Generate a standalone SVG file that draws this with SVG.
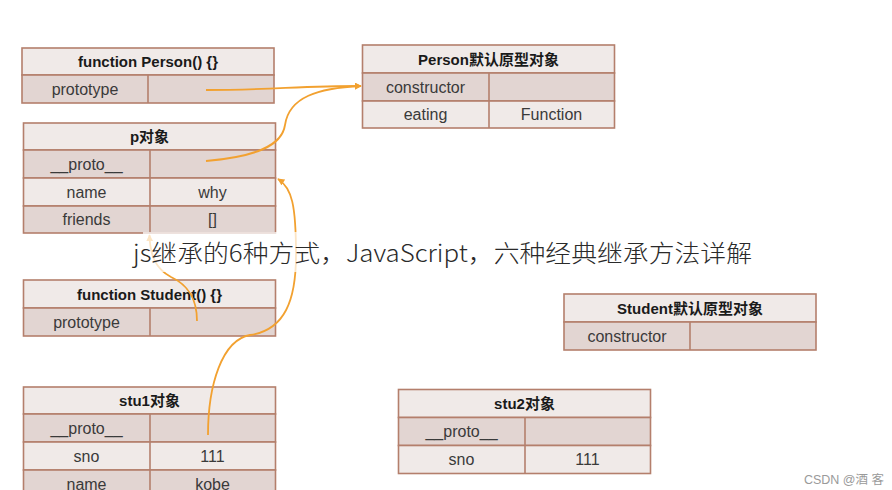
<svg xmlns="http://www.w3.org/2000/svg" width="892" height="490" viewBox="0 0 892 490">
<defs>
<style>
.hd{fill:#f0eae8;stroke:#b47f6c;stroke-width:1.6}
.dk{fill:#e2d5d2;stroke:#b47f6c;stroke-width:1.6}
.lt{fill:#f0eae8;stroke:#b47f6c;stroke-width:1.6}
.dv{stroke:#b47f6c;stroke-width:1.6}
.ht{font-family:"Liberation Sans","Noto Sans CJK SC",sans-serif;font-size:15px;font-weight:bold;fill:#1a1a1a;text-anchor:middle}
.ct{font-family:"Liberation Sans","Noto Sans CJK SC",sans-serif;font-size:16px;fill:#3a3a3a;text-anchor:middle}
.cn{fill:none;stroke:#f2a130;stroke-width:1.8}
</style>
<marker id="ah" viewBox="0 0 10 10" refX="9" refY="5" markerWidth="7" markerHeight="7" orient="auto" markerUnits="userSpaceOnUse">
<path d="M0,0 L10,5 L0,10 z" fill="#f2a130"/>
</marker>
</defs>
<rect width="892" height="490" fill="#ffffff"/>

<g id="person-fn">
<rect class="hd" x="22" y="48" width="252" height="27"/>
<rect class="dk" x="22" y="75" width="252" height="28"/>
<line class="dv" x1="148" y1="75" x2="148" y2="103"/>
<text class="ht" x="148" y="67">function Person() {}</text>
<text class="ct" x="85" y="95">prototype</text>
</g>

<g id="p-obj">
<rect class="hd" x="23.5" y="123" width="252" height="27"/>
<rect class="dk" x="23.5" y="150" width="252" height="28"/>
<rect class="lt" x="23.5" y="178" width="252" height="28"/>
<rect class="dk" x="23.5" y="206" width="252" height="27"/>
<line class="dv" x1="150" y1="150" x2="150" y2="233"/>
<text class="ht" x="149.5" y="142">p对象</text>
<text class="ct" x="86.5" y="170">__proto__</text>
<text class="ct" x="86.5" y="198">name</text>
<text class="ct" x="212.5" y="198">why</text>
<text class="ct" x="86.5" y="225">friends</text>
<text class="ct" x="212.5" y="225">[]</text>
</g>

<g id="person-proto">
<rect class="hd" x="362.5" y="45" width="252" height="28"/>
<rect class="dk" x="362.5" y="73" width="252" height="28"/>
<rect class="lt" x="362.5" y="101" width="252" height="27"/>
<line class="dv" x1="489" y1="73" x2="489" y2="128"/>
<text class="ht" x="488.5" y="65">Person默认原型对象</text>
<text class="ct" x="425.5" y="93">constructor</text>
<text class="ct" x="425.5" y="120">eating</text>
<text class="ct" x="551.5" y="120">Function</text>
</g>

<g id="student-fn">
<rect class="hd" x="23.5" y="280" width="252" height="28"/>
<rect class="dk" x="23.5" y="308" width="252" height="28"/>
<line class="dv" x1="150" y1="308" x2="150" y2="336"/>
<text class="ht" x="149.5" y="300">function Student() {}</text>
<text class="ct" x="86.5" y="328">prototype</text>
</g>

<g id="stu1-obj">
<rect class="hd" x="23.5" y="387" width="252" height="27"/>
<rect class="dk" x="23.5" y="414" width="252" height="28"/>
<rect class="lt" x="23.5" y="442" width="252" height="28"/>
<rect class="dk" x="23.5" y="470" width="252" height="28"/>
<line class="dv" x1="150" y1="414" x2="150" y2="498"/>
<text class="ht" x="149.5" y="406">stu1对象</text>
<text class="ct" x="86.5" y="434">__proto__</text>
<text class="ct" x="86.5" y="462">sno</text>
<text class="ct" x="212.5" y="462">111</text>
<text class="ct" x="86.5" y="490">name</text>
<text class="ct" x="212.5" y="490">kobe</text>
</g>

<g id="student-proto">
<rect class="hd" x="564" y="294" width="252" height="28"/>
<rect class="dk" x="564" y="322" width="252" height="28"/>
<line class="dv" x1="690" y1="322" x2="690" y2="350"/>
<text class="ht" x="690" y="314">Student默认原型对象</text>
<text class="ct" x="627" y="342">constructor</text>
</g>

<g id="stu2-obj">
<rect class="hd" x="398.5" y="389.5" width="252" height="28"/>
<rect class="dk" x="398.5" y="417.5" width="252" height="28"/>
<rect class="lt" x="398.5" y="445.5" width="252" height="28"/>
<line class="dv" x1="525" y1="417.5" x2="525" y2="473.5"/>
<text class="ht" x="524.5" y="409">stu2对象</text>
<text class="ct" x="461.5" y="437">__proto__</text>
<text class="ct" x="461.5" y="465">sno</text>
<text class="ct" x="587.5" y="465">111</text>
</g>

<g id="connectors">
<path class="cn" d="M206,90 C270,90 300,86 361,86" marker-end="url(#ah)"/>
<path class="cn" d="M206,161 C255,157 282,146 285,125 C289,97 318,88 361,86" marker-end="url(#ah)"/>
<path class="cn" d="M197,321 C197,296 186,284 171,277 C156,269 150,256 149.5,235" marker-end="url(#ah)"/>
<path class="cn" d="M208,435 C208,385 222,340 250,335 C285,330 296,300 296,255 C296,205 292,188 278,179" marker-end="url(#ah)"/>
</g>

<g id="title-overlay">
<rect x="143" y="232" width="620" height="40" fill="#ffffff" fill-opacity="0.72"/>
<text x="133" y="262" font-family="'Noto Sans CJK SC','Noto Sans',sans-serif" font-size="24" font-weight="300" fill="#2a2a2a" textLength="619" lengthAdjust="spacingAndGlyphs">js继承的6种方式，JavaScript，六种经典继承方法详解</text>
</g>

<text x="884" y="484" text-anchor="end" font-family="'Liberation Sans','Noto Sans CJK SC',sans-serif" font-size="12.5" fill="#9a9a9a">CSDN @酒 客</text>
</svg>
